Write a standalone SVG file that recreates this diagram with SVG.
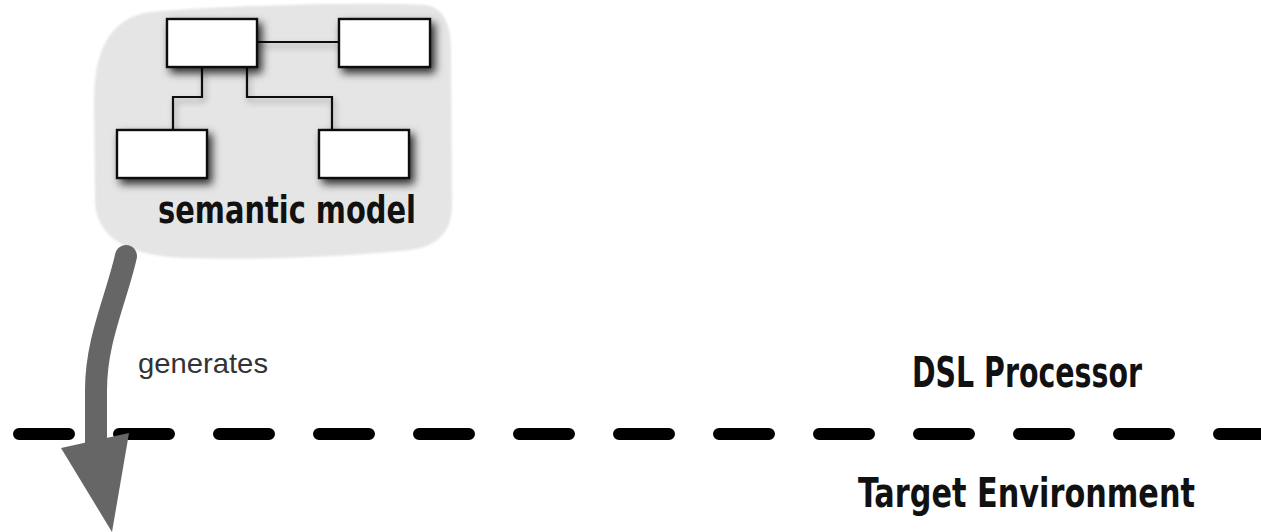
<svg xmlns="http://www.w3.org/2000/svg" width="1261" height="532" viewBox="0 0 1261 532">
  <style>
    .box { fill: #ffffff; stroke: #111111; stroke-width: 2.4; }
    .link { fill: none; stroke: #111111; stroke-width: 2.2; }
    .hand { font-family: "Liberation Sans Narrow", "DejaVu Sans Condensed", "Liberation Sans", sans-serif; font-stretch: condensed; font-weight: bold; fill: #111111; }
    .label { font-family: "Liberation Sans", Arial, sans-serif; fill: #333333; }
  </style>
  <defs>
    <filter id="shadow" x="-30%" y="-30%" width="170%" height="180%">
      <feDropShadow dx="4" dy="5" stdDeviation="4" flood-color="#000000" flood-opacity="0.8"/>
    </filter>
    <filter id="link-shadow" x="-30%" y="-30%" width="170%" height="180%">
      <feDropShadow dx="2" dy="4" stdDeviation="3" flood-color="#000000" flood-opacity="0.35"/>
    </filter>
    <filter id="soft" x="-10%" y="-10%" width="120%" height="120%">
      <feGaussianBlur stdDeviation="1"/>
    </filter>
  </defs>

  <!-- semantic model container -->
  <g id="semantic-model">
    <path d="M150,12 C250,4 380,2 425,5 Q451,8 451,50 L452,205 Q452,245 410,250 C330,258 250,260 185,258 Q96,255 95,200 L94,100 Q94,20 150,12 Z" fill="#e5e5e5" filter="url(#soft)"/>

    <g id="model-links" filter="url(#link-shadow)">
      <path class="link" d="M257,42 H339"/>
      <path class="link" d="M202,67 V97 H173 V130"/>
      <path class="link" d="M247,67 V97 H332 V130"/>
    </g>

    <g id="box-top-left" filter="url(#shadow)">
      <rect class="box" x="167" y="19" width="90" height="48"/>
    </g>
    <g id="box-top-right" filter="url(#shadow)">
      <rect class="box" x="339" y="19" width="91" height="48"/>
    </g>
    <g id="box-bottom-left" filter="url(#shadow)">
      <rect class="box" x="117" y="130" width="90" height="48"/>
    </g>
    <g id="box-bottom-right" filter="url(#shadow)">
      <rect class="box" x="319" y="130" width="90" height="48"/>
    </g>

    <text class="hand" x="158" y="223" font-size="37" textLength="258" lengthAdjust="spacingAndGlyphs">semantic model</text>
  </g>

  <!-- boundary between processor and target -->
  <g id="boundary">
    <path d="M19,434 H1261" fill="none" stroke="#000000" stroke-width="12" stroke-linecap="round" stroke-dasharray="50 50"/>
    <text class="hand" x="912" y="387" font-size="42" textLength="230" lengthAdjust="spacingAndGlyphs">DSL Processor</text>
    <text class="hand" x="858" y="507" font-size="40" textLength="337" lengthAdjust="spacingAndGlyphs">Target Environment</text>
  </g>

  <!-- generation arrow -->
  <g id="connectors">
    <path d="M126,256 C116,300 96,340 96,390 L96,446" fill="none" stroke="#666666" stroke-width="22" stroke-linecap="round"/>
    <polygon points="61,448 129,433 112,532" fill="#666666"/>
    <text class="label" x="138" y="373" font-size="28" textLength="130" lengthAdjust="spacingAndGlyphs">generates</text>
  </g>
</svg>
